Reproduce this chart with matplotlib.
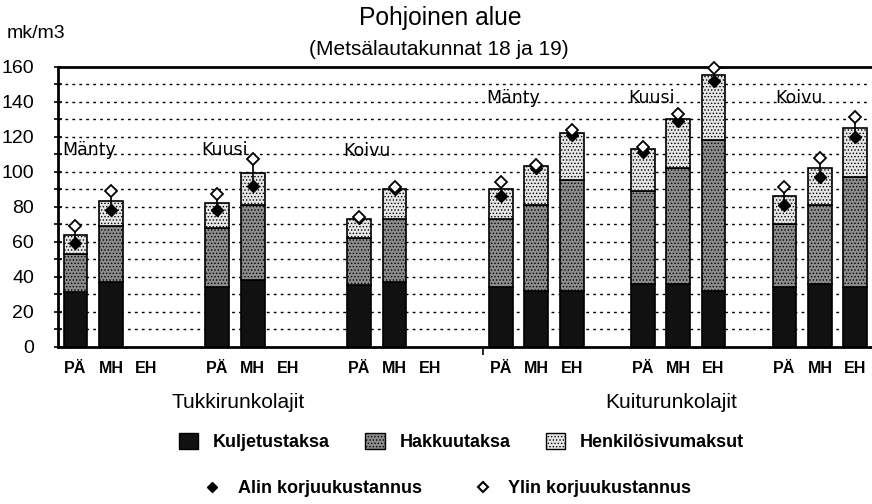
import numpy as np
import matplotlib.pyplot as plt
from matplotlib.patches import Patch
from matplotlib.lines import Line2D
from matplotlib.transforms import blended_transform_factory

plt.rcParams['font.family'] = ['Liberation Sans', 'DejaVu Sans']
plt.rcParams['hatch.linewidth'] = 0.6

nan = np.nan
lajit = ['Mänty', 'Kuusi', 'Koivu', 'Mänty', 'Kuusi', 'Koivu']
menetelmat = ['PÄ', 'MH', 'EH']
ryhmat = ['Tukkirunkolajit', 'Kuiturunkolajit']

# values per bar: 6 species groups x (PÄ, MH, EH)
kuljetustaksa = [31, 37, nan, 34, 38, nan, 35, 37, nan,
                 34, 32, 32, 36, 36, 32, 34, 36, 34]
hakkuutaksa = [22, 32, nan, 34, 43, nan, 27, 36, nan,
               39, 49, 63, 53, 66, 86, 36, 45, 63]
henkilosivu = [11, 14, nan, 14, 18, nan, 11, 17, nan,
               17, 22, 27, 24, 28, 37, 16, 21, 28]
alin = [59, 78, nan, 78, 92, nan, 73.5, 90, nan,
        86, 102, 121, 111, 129, 152, 81, 97, 120]
ylin = [69, 89, nan, 87, 107, nan, 74, 91, nan,
        94, 104, 124, 114, 133, 159, 91, 108, 131]

x = np.array([4 * g + j for g in range(6) for j in range(3)], dtype=float)
k = np.array(kuljetustaksa)
h = np.array(hakkuutaksa)
s = np.array(henkilosivu)

c_kulj = '#111111'
c_hakk = '#8c8c8c'
c_henk = '#e6e6e6'

fig = plt.figure(figsize=(8.72, 5.04), dpi=100)
ax = fig.add_axes([0.0662, 0.312, 0.933, 0.556])

w = 0.67
ax.bar(x, k, w, color=c_kulj, edgecolor='black', linewidth=1.2, zorder=3)
ax.bar(x, h, w, bottom=k, color=c_hakk, edgecolor='black', linewidth=1.2,
       hatch='.....', zorder=3)
ax.bar(x, s, w, bottom=k + h, color=c_henk, edgecolor='black', linewidth=1.2,
       hatch='.....', zorder=3)

ax.vlines(x, alin, ylin, color='black', linewidth=1.2, zorder=4)
ax.plot(x, alin, 'D', color='black', markersize=6.5, linestyle='none', zorder=5)
ax.plot(x, ylin, 'D', markerfacecolor='white', markeredgecolor='black',
        markeredgewidth=1.3, markersize=6.5, linestyle='none', zorder=6,
        clip_on=False)

ax.set_xlim(-0.5, 22.45)
ax.set_ylim(0, 160)
ax.set_yticks(range(0, 161, 20))
ax.set_yticks(range(0, 161, 10), minor=True)
ax.set_yticklabels([str(v) for v in range(0, 161, 20)], fontsize=14)
ax.tick_params(axis='y', which='both', direction='inout', length=6, width=1.2, pad=14)
ax.set_xticks([11.5])
ax.set_xticklabels([''])
ax.tick_params(axis='x', direction='out', length=6, width=1.2)

for v in range(10, 160, 10):
    ax.axhline(v, color='black', linestyle=(0, (2, 3)), linewidth=1.0, zorder=1)

for sp in ['left', 'bottom', 'top']:
    ax.spines[sp].set_linewidth(2)
ax.spines['right'].set_visible(False)

tr = blended_transform_factory(ax.transData, ax.transAxes)
for i, xi in enumerate(x):
    ax.text(xi, -0.05, menetelmat[i % 3], transform=tr, ha='center', va='top',
            fontsize=11.5, fontweight='bold')
ax.text(4.6, -0.165, ryhmat[0], transform=tr, ha='center', va='top', fontsize=15)
ax.text(16.8, -0.165, ryhmat[1], transform=tr, ha='center', va='top', fontsize=15)

lab_y = [112.5, 112.5, 111.5, 142, 142, 142]
lab_dx = [-0.38, -0.45, -0.45, -0.4, -0.4, -0.25]
for g in range(6):
    ax.text(4 * g + lab_dx[g], lab_y[g], lajit[g], ha='left', va='center',
            fontsize=12.5, family='DejaVu Sans', zorder=2)

fig.text(0.505, 0.950, 'Pohjoinen alue', ha='center', va='baseline', fontsize=17.7)
fig.text(0.503, 0.891, '(Metsälautakunnat 18 ja 19)', ha='center', va='baseline',
         fontsize=15)
fig.text(0.008, 0.925, 'mk/m3', ha='left', va='baseline', fontsize=14)

handles1 = [Patch(facecolor=c_kulj, edgecolor='black'),
            Patch(facecolor=c_hakk, edgecolor='black', hatch='.....'),
            Patch(facecolor=c_henk, edgecolor='black', hatch='.....')]
fig.legend(handles1, ['Kuljetustaksa', 'Hakkuutaksa', 'Henkilösivumaksut'],
           loc='center', bbox_to_anchor=(0.529, 0.123), ncol=3, frameon=False,
           handlelength=1.1, handleheight=1.05, columnspacing=1.95, handletextpad=0.8,
           prop={'size': 13, 'weight': 'bold'})

handles2 = [Line2D([], [], marker='D', color='black', linestyle='none', markersize=5.5),
            Line2D([], [], marker='D', markerfacecolor='white', markeredgecolor='black',
                   markeredgewidth=1.5, linestyle='none', markersize=5.5)]
fig.legend(handles2, ['Alin korjuukustannus', 'Ylin korjuukustannus'],
           loc='center', bbox_to_anchor=(0.510, 0.030), ncol=2, frameon=False,
           handlelength=1.6, columnspacing=2.6, handletextpad=0.6,
           prop={'size': 13, 'weight': 'bold'})

fig.savefig('out.png', dpi=100)
plt.close()
